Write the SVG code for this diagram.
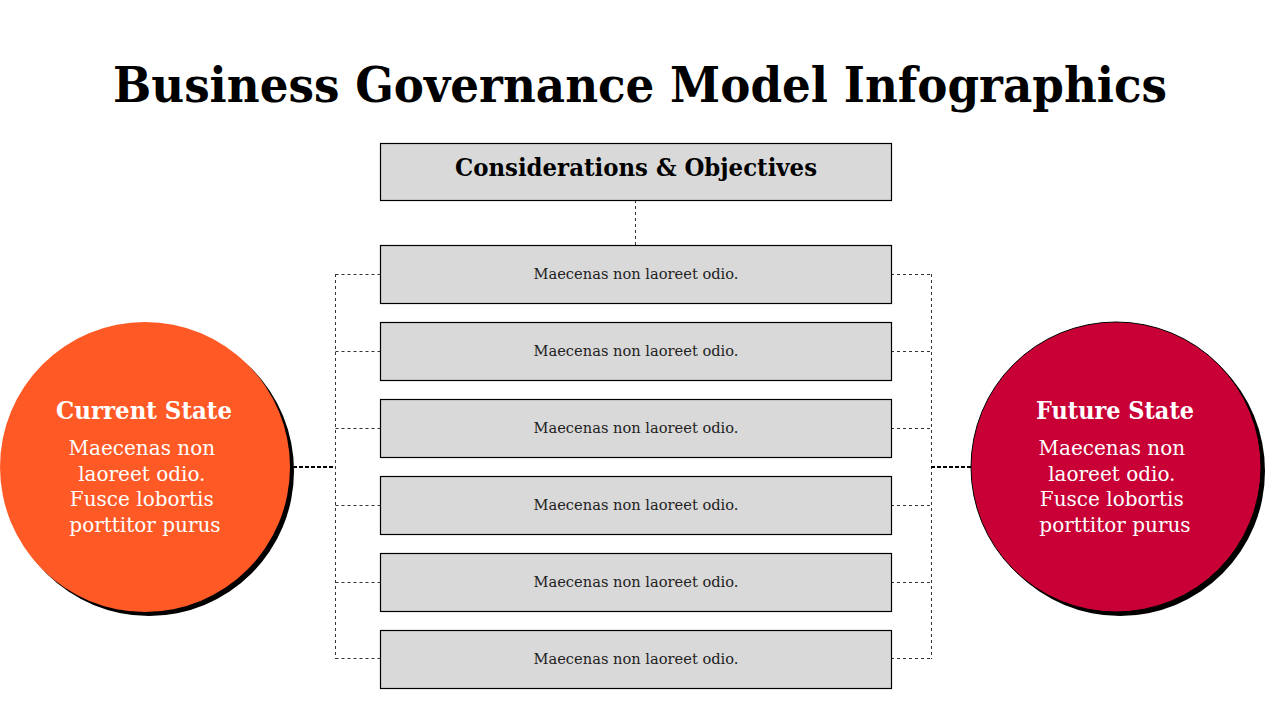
<svg xmlns="http://www.w3.org/2000/svg" width="1280" height="720" viewBox="0 0 1280 720">
<style>
.title{font-family:"DejaVu Serif","Liberation Serif",serif;font-weight:bold;font-size:48px;fill:#000}
.hdr{font-family:"DejaVu Serif","Liberation Serif",serif;font-weight:bold;font-size:24px;fill:#000}
.box{fill:#d9d9d9;stroke:#000;stroke-width:1.2}
.bt{font-family:"DejaVu Serif","Liberation Serif",serif;font-size:15px;fill:#222}
.ct{font-family:"DejaVu Serif","Liberation Serif",serif;font-weight:bold;font-size:24px;fill:#fff}
.cb{font-family:"DejaVu Serif","Liberation Serif",serif;font-size:20px;fill:#fff}
.dash{fill:none;stroke:#333;stroke-width:1;stroke-dasharray:3 3}
.dashb{fill:none;stroke:#000;stroke-width:2;stroke-dasharray:4 2}
</style>
<rect width="1280" height="720" fill="#fff"/>
<text class="title" x="640" y="102" text-anchor="middle" textLength="1054" lengthAdjust="spacingAndGlyphs">Business Governance Model Infographics</text>
<g id="connectors">
<path class="dash" d="M635.5 200V245"/>
<path class="dash" d="M335.5 274V659M335.5 274.5H380M335.5 351.5H380M335.5 428.5H380M335.5 505.5H380M335.5 582.5H380M335.5 658.5H380"/>
<path class="dash" d="M931.5 274V659M891 274.5H931.5M891 351.5H931.5M891 428.5H931.5M891 505.5H931.5M891 582.5H931.5M891 658.5H931.5"/>
<path class="dashb" d="M293 467H335"/>
<path class="dashb" d="M931 467H972"/>
</g>
<g id="header">
<rect class="box" x="380.5" y="143.5" width="511" height="57"/>
<text class="hdr" x="636" y="176" text-anchor="middle" textLength="362" lengthAdjust="spacingAndGlyphs">Considerations &amp; Objectives</text>
</g>
<g id="item1"><rect class="box" x="380.5" y="245.5" width="511" height="58"/><text class="bt" x="636" y="279" text-anchor="middle" textLength="205" lengthAdjust="spacingAndGlyphs">Maecenas non laoreet odio.</text></g>
<g id="item2"><rect class="box" x="380.5" y="322.5" width="511" height="58"/><text class="bt" x="636" y="356" text-anchor="middle" textLength="205" lengthAdjust="spacingAndGlyphs">Maecenas non laoreet odio.</text></g>
<g id="item3"><rect class="box" x="380.5" y="399.5" width="511" height="58"/><text class="bt" x="636" y="433" text-anchor="middle" textLength="205" lengthAdjust="spacingAndGlyphs">Maecenas non laoreet odio.</text></g>
<g id="item4"><rect class="box" x="380.5" y="476.5" width="511" height="58"/><text class="bt" x="636" y="510" text-anchor="middle" textLength="205" lengthAdjust="spacingAndGlyphs">Maecenas non laoreet odio.</text></g>
<g id="item5"><rect class="box" x="380.5" y="553.5" width="511" height="58"/><text class="bt" x="636" y="587" text-anchor="middle" textLength="205" lengthAdjust="spacingAndGlyphs">Maecenas non laoreet odio.</text></g>
<g id="item6"><rect class="box" x="380.5" y="630.5" width="511" height="58"/><text class="bt" x="636" y="664" text-anchor="middle" textLength="205" lengthAdjust="spacingAndGlyphs">Maecenas non laoreet odio.</text></g>
<g id="current-state">
<circle cx="149" cy="471" r="145" fill="#000"/>
<circle cx="145" cy="467" r="145" fill="#FF5A26"/>
<text class="ct" x="144" y="419" text-anchor="middle" textLength="176" lengthAdjust="spacingAndGlyphs">Current State</text>
<text class="cb" text-anchor="middle">
<tspan x="145" y="455">Maecenas non</tspan>
<tspan x="145" y="481">laoreet odio.</tspan>
<tspan x="145" y="506">Fusce lobortis</tspan>
<tspan x="145" y="532">porttitor purus</tspan>
</text>
</g>
<g id="future-state">
<circle cx="1120" cy="471" r="145" fill="#000"/>
<circle cx="1116" cy="467" r="145" fill="#C80036" stroke="#000" stroke-width="1"/>
<text class="ct" x="1115" y="419" text-anchor="middle" textLength="158" lengthAdjust="spacingAndGlyphs">Future State</text>
<text class="cb" text-anchor="middle">
<tspan x="1115" y="455">Maecenas non</tspan>
<tspan x="1115" y="481">laoreet odio.</tspan>
<tspan x="1115" y="506">Fusce lobortis</tspan>
<tspan x="1115" y="532">porttitor purus</tspan>
</text>
</g>
</svg>
